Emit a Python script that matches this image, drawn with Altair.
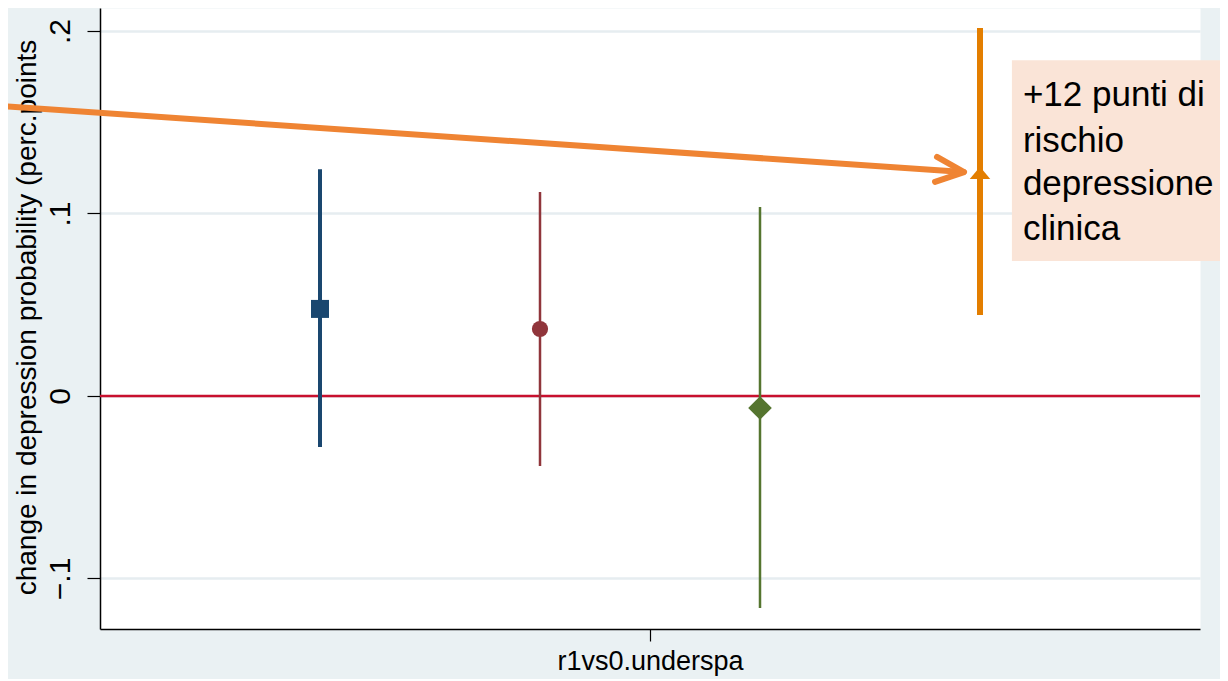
import altair as alt
import pandas as pd

FONT = "Liberation Sans"

# --- data ---
series = ["s1", "s2", "s3", "s4"]
x_pos = [0.2, 0.4, 0.6, 0.8]
estimate = [0.0477, 0.0367, -0.0066, 0.1222]
ci_low = [-0.0280, -0.0384, -0.1162, 0.0444]
ci_high = [0.1242, 0.1118, 0.1036, 0.2016]

zero_line = [0.0]

# annotation arrow (data coordinates)
arrow_x = [-0.0909, 0.7850, 0.7609, 0.7855, 0.7591]
arrow_y = [0.1589, 0.1227, 0.1310, 0.1227, 0.1173]
arrow_part = ["shaft", "shaft", "head", "head", "head"]
arrow_order = [0, 1, 0, 1, 2]

box_x = [0.829]
box_x2 = [1.03]
box_y = [0.184]
box_y2 = [0.074]

note_lines = ["+12 punti di", "rischio", "depressione", "clinica"]
note_x = [0.839, 0.839, 0.839, 0.839]
note_y = [0.1589, 0.1337, 0.1101, 0.0855]

# --- styles (kept apart from the data) ---
styles = {
    "s1": dict(color="#1a476f", shape="square", size=324, width=4),
    "s2": dict(color="#90353b", shape="circle", size=262, width=2.5),
    "s3": dict(color="#55752f", shape="diamond", size=560, width=2.5),
    "s4": dict(color="#e37e00", shape="M-1,0.6L0,-0.6L1,0.6Z", size=420, width=6),
}

df = pd.DataFrame({"series": series, "x": x_pos, "y": estimate, "lo": ci_low, "hi": ci_high})
zero_df = pd.DataFrame({"y": zero_line})
arrow_df = pd.DataFrame({"x": arrow_x, "y": arrow_y, "part": arrow_part, "ord": arrow_order})
box_df = pd.DataFrame({"x": box_x, "x2": box_x2, "y": box_y, "y2": box_y2})
note_df = pd.DataFrame({"x": note_x, "y": note_y, "t": note_lines})

xs = alt.Scale(domain=[0, 1], nice=False, zero=False)
ys = alt.Scale(domain=[-0.1277, 0.2126], nice=False, zero=False)

xaxis = alt.Axis(
    values=[0.5], labelExpr="'r1vs0.underspa'", title=None, grid=False,
    tickSize=12, tickColor="black", tickWidth=1.2,
    domainColor="black", domainWidth=1.5, labelLimit=0,
    labelFontSize=27, labelFont=FONT, labelColor="black", labelPadding=7,
)
yaxis = alt.Axis(
    values=[-0.1, 0, 0.1, 0.2],
    labelExpr="datum.value == 0 ? '0' : replace(format(datum.value, '.1f'), '0.', '.')",
    labelAngle=270, labelAlign="center", labelBaseline="bottom", labelPadding=12,
    labelFontSize=30, labelFont=FONT, labelColor="black",
    tickSize=13, tickColor="black", tickWidth=1.2,
    domainColor="black", domainWidth=1.5,
    grid=True, gridColor="#e6edf0", gridWidth=2.5,
    title="change in depression probability (perc.points",
    titleFont=FONT, titleFontSize=28, titleFontWeight="normal", titleColor="black",
    titleAngle=270, titleX=-65, titleY=309, titleAlign="center", titleBaseline="alphabetic",
)

X = alt.X("x:Q", scale=xs, axis=xaxis)
Y = alt.Y("y:Q", scale=ys, axis=yaxis)

layers = []
layers.append(
    alt.Chart(zero_df).mark_rule(color="#c8102e", strokeWidth=2.5).encode(
        y=alt.Y("y:Q", scale=ys, axis=yaxis)
    )
)

for s in series:
    st = styles[s]
    base = alt.Chart(df).transform_filter(alt.datum.series == s)
    layers.append(
        base.mark_rule(color=st["color"], strokeWidth=st["width"]).encode(
            x=X, y=alt.Y("lo:Q", scale=ys, axis=yaxis), y2="hi:Q"
        )
    )
for s in series:
    st = styles[s]
    base = alt.Chart(df).transform_filter(alt.datum.series == s)
    layers.append(
        base.mark_point(filled=True, opacity=1, color=st["color"], shape=st["shape"], size=st["size"]).encode(
            x=X, y=Y
        )
    )

layers.append(
    alt.Chart(arrow_df).mark_line(color="#ef8433", strokeWidth=6, strokeCap="round", strokeJoin="round").encode(
        x=X, y=Y, detail="part:N", order="ord:Q"
    )
)
layers.append(
    alt.Chart(box_df).mark_rect(color="#fae4d7").encode(x=X, x2="x2:Q", y=Y, y2="y2:Q")
)
layers.append(
    alt.Chart(note_df).mark_text(
        align="left", baseline="alphabetic", font=FONT, fontSize=35, color="black"
    ).encode(x=X, y=Y, text="t:N")
)

chart = alt.layer(*layers).properties(
    width=1100, height=621,
    autosize=alt.AutoSizeParams(type="none"),
    padding={"left": 92, "top": 0, "right": 20, "bottom": 50},
    background="#eaf1f3",
).configure_view(fill="white", stroke="transparent")

chart.save("out.html", embed_options={"renderer": "svg", "actions": False})
